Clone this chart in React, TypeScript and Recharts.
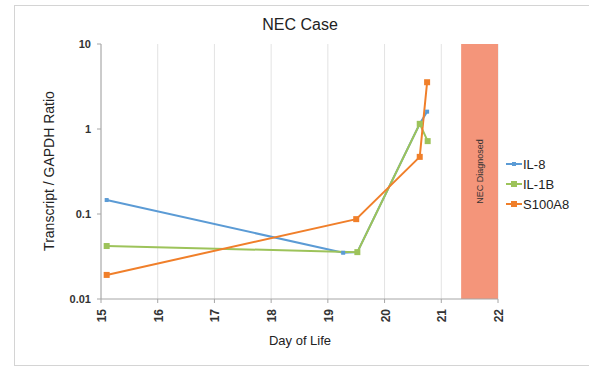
import React from "react";
import {
  ComposedChart,
  Line,
  XAxis,
  YAxis,
  CartesianGrid,
  ReferenceArea,
} from "recharts";

const il8Days = [15.1, 19.27, 19.52, 20.62, 20.75];
const il8Values = [0.146, 0.035, 0.0356, 1.15, 1.6];
const il1bDays = [15.1, 19.52, 20.62, 20.76];
const il1bValues = [0.042, 0.0356, 1.15, 0.72];
const s100Days = [15.1, 19.5, 20.62, 20.75];
const s100Values = [0.0192, 0.087, 0.47, 3.55];

const dayTicks = [15, 16, 17, 18, 19, 20, 21, 22];
const ratioTicks = [0.01, 0.1, 1, 10];
const necStart = 21.35;
const necEnd = 22;

const seriesNames = ["IL-8", "IL-1B", "S100A8"];
const colors = ["#5B9BD5", "#9DC35A", "#F07F2A"];
const markerSizes = [4, 6, 6];

const toPoints = (xs: number[], ys: number[]) =>
  xs.map((x, i) => ({ x, y: ys[i] }));

const il8 = toPoints(il8Days, il8Values);
const il1b = toPoints(il1bDays, il1bValues);
const s100 = toPoints(s100Days, s100Values);

const FONT = "'Liberation Sans', Arial, sans-serif";

const squareDot = (color: string, size: number) => (p: any) => (
  <rect
    key={`d-${p.index}-${color}`}
    x={p.cx - size / 2}
    y={p.cy - size / 2}
    width={size}
    height={size}
    fill={color}
  />
);

const XTick = (props: any) => {
  const { x, y, payload } = props;
  return (
    <text
      transform={`translate(${x + 5},${y + 4}) rotate(-90)`}
      textAnchor="end"
      fontSize={12}
      fontWeight="bold"
      fill="#333"
      fontFamily={FONT}
    >
      {payload.value}
    </text>
  );
};

export default function App() {
  return (
    <div
      style={{
        position: "absolute",
        left: 0,
        top: 0,
        width: 589,
        height: 366,
        background: "#fff",
        fontFamily: FONT,
        overflow: "hidden",
      }}
    >
      <div
        style={{
          position: "absolute",
          left: 14,
          top: 5,
          width: 590,
          height: 359,
          border: "1px solid #d4d4d4",
        }}
      />
      <ComposedChart
        width={589}
        height={366}
        margin={{ top: 44, right: 91, bottom: 0, left: 0 }}
        style={{ position: "absolute", left: 0, top: 0 }}
      >
        <CartesianGrid horizontal={false} stroke="#e3e3e3" />
        <XAxis
          type="number"
          dataKey="x"
          domain={[15, 22]}
          ticks={dayTicks}
          allowDataOverflow
          height={67}
          stroke="#a6a6a6"
          tickSize={4}
          tick={<XTick />}
        />
        <YAxis
          type="number"
          dataKey="y"
          scale="log"
          domain={[0.01, 10]}
          ticks={ratioTicks}
          allowDataOverflow
          width={101}
          stroke="#a6a6a6"
          tickSize={4}
          tickMargin={6}
          tick={{ fontSize: 11, fontWeight: "bold", fill: "#333", fontFamily: FONT }}
        />
        <ReferenceArea
          x1={necStart}
          x2={necEnd}
          y1={0.01}
          y2={10}
          fill="#F4957A"
          fillOpacity={1}
          stroke="none"
          ifOverflow="extendDomain"
          label={{
            value: "NEC Diagnosed",
            angle: -90,
            position: "center",
            fontSize: 9,
            fill: "#333",
            fontFamily: FONT,
          }}
        />
        <Line
          data={il8}
          dataKey="y"
          stroke={colors[0]}
          strokeWidth={2}
          dot={squareDot(colors[0], markerSizes[0])}
          activeDot={false}
          isAnimationActive={false}
        />
        <Line
          data={il1b}
          dataKey="y"
          stroke={colors[1]}
          strokeWidth={2}
          dot={squareDot(colors[1], markerSizes[1])}
          activeDot={false}
          isAnimationActive={false}
        />
        <Line
          data={s100}
          dataKey="y"
          stroke={colors[2]}
          strokeWidth={2}
          dot={squareDot(colors[2], markerSizes[2])}
          activeDot={false}
          isAnimationActive={false}
        />
      </ComposedChart>
      <div
        style={{
          position: "absolute",
          left: 200,
          width: 200,
          top: 16,
          textAlign: "center",
          fontSize: 16,
          color: "#222",
        }}
      >
        NEC Case
      </div>
      <div
        style={{
          position: "absolute",
          left: 200,
          width: 200,
          top: 333,
          textAlign: "center",
          fontSize: 13,
          color: "#222",
        }}
      >
        Day of Life
      </div>
      <div
        style={{
          position: "absolute",
          left: 49 - 100,
          top: 171 - 9,
          width: 200,
          height: 18,
          lineHeight: "18px",
          textAlign: "center",
          fontSize: 14,
          color: "#222",
          transform: "rotate(-90deg)",
        }}
      >
        Transcript / GAPDH Ratio
      </div>
      <div style={{ position: "absolute", left: 506, top: 154 }}>
        {seriesNames.map((name, i) => (
          <div
            key={name}
            style={{
              display: "flex",
              alignItems: "center",
              height: 20,
              fontSize: 13,
              color: "#222",
            }}
          >
            <svg width={16} height={10} style={{ marginRight: 1 }}>
              <line x1={0} y1={5} x2={16} y2={5} stroke={colors[i]} strokeWidth={2} />
              <rect
                x={8 - markerSizes[i] / 2}
                y={5 - markerSizes[i] / 2}
                width={markerSizes[i]}
                height={markerSizes[i]}
                fill={colors[i]}
              />
            </svg>
            <span>{name}</span>
          </div>
        ))}
      </div>
    </div>
  );
}
